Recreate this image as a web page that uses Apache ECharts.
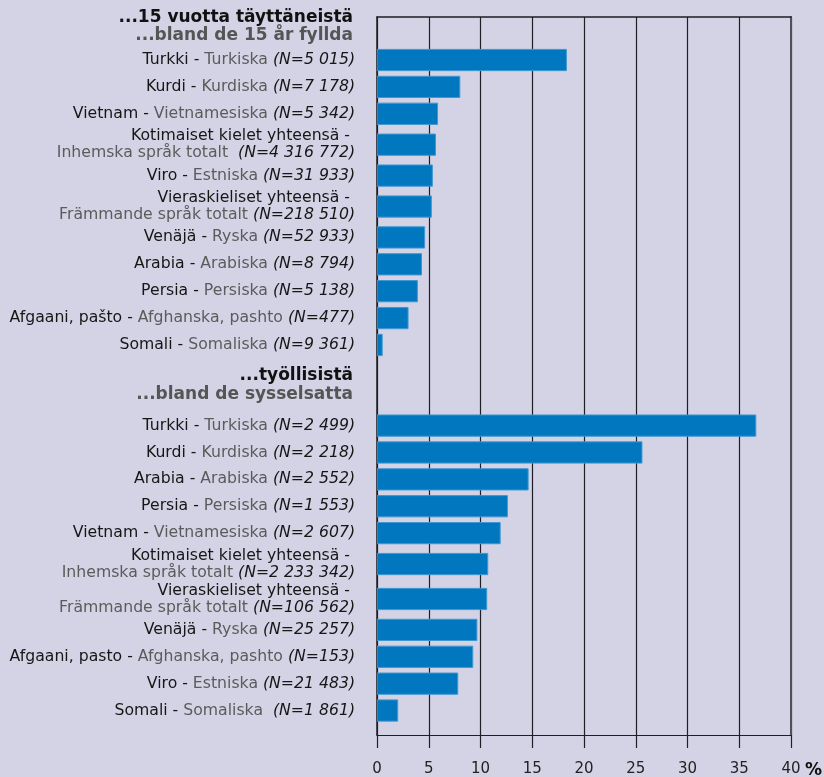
<!DOCTYPE html>
<html>
<head>
<meta charset="utf-8">
<script src="https://cdn.jsdelivr.net/npm/echarts@6/dist/echarts.min.js"></script>
<style>
html,body{margin:0;padding:0;background:#d3d3e5;}
#chart{width:824px;height:777px;}
</style>
</head>
<body>
<div id="chart"></div>
<script>
// ---- data ----
const header1Fi = '...15 vuotta täyttäneistä';
const header1Sv = '...bland de 15 år fyllda';
const header2Fi = '...työllisistä';
const header2Sv = '...bland de sysselsatta';

const group1Fi = ['Turkki','Kurdi','Vietnam','Kotimaiset kielet yhteensä','Viro','Vieraskieliset yhteensä','Venäjä','Arabia','Persia','Afgaani, pašto','Somali'];
const group1Sv = ['Turkiska','Kurdiska','Vietnamesiska','Inhemska språk totalt','Estniska','Främmande språk totalt','Ryska','Arabiska','Persiska','Afghanska, pashto','Somaliska'];
const group1N  = ['5 015','7 178','5 342','4 316 772','31 933','218 510','52 933','8 794','5 138','477','9 361'];
const group1Values = [18.3, 8.0, 5.85, 5.65, 5.35, 5.25, 4.6, 4.3, 3.9, 3.0, 0.5];

const group2Fi = ['Turkki','Kurdi','Arabia','Persia','Vietnam','Kotimaiset kielet yhteensä','Vieraskieliset yhteensä','Venäjä','Afgaani, pasto','Viro','Somali'];
const group2Sv = ['Turkiska','Kurdiska','Arabiska','Persiska','Vietnamesiska','Inhemska språk totalt','Främmande språk totalt','Ryska','Afghanska, pashto','Estniska','Somaliska'];
const group2N  = ['2 499','2 218','2 552','1 553','2 607','2 233 342','106 562','25 257','153','21 483','1 861'];
const group2Values = [36.6, 25.6, 14.6, 12.6, 11.9, 10.7, 10.6, 9.65, 9.25, 7.8, 2.0];

const xTicks = [0, 5, 10, 15, 20, 25, 30, 35, 40];

// ---- row layout (in row units; two-line labels take a taller row) ----
const ROW_TWO = 1.3, HEADER_GAP = 2, TOP_PAD = 1.1, BOTTOM_PAD = 0.91, BAR_H = 0.79;
const labelMap = {};
const barData = [];
let pos = null, prevH = 0;
function key(v){ return (Math.round(v * 1000) / 1000).toFixed(3); }
function addGroup(fi, sv, n, vals, wideGapBeforeN){
  fi.forEach((f, i) => {
    const two = f.indexOf('yhteensä') >= 0;
    const h = two ? ROW_TWO : 1;
    pos = (pos === null) ? 0 : pos + (prevH + h) / 2;
    prevH = h;
    const sep = wideGapBeforeN.indexOf(i) >= 0 ? '  ' : ' ';
    labelMap[key(pos)] = two
      ? '{fi|' + f + ' - }\n{sv|' + sv[i] + '}{n|' + sep + '(N=' + n[i] + ')}'
      : '{fi|' + f + ' - }{sv|' + sv[i] + '}{n|' + sep + '(N=' + n[i] + ')}';
    barData.push([vals[i], pos]);
  });
}
addGroup(group1Fi, group1Sv, group1N, group1Values, [3]);
const lastOfGroup1 = pos, lastH1 = prevH;
const header2Pos = lastOfGroup1 + lastH1 / 2 + HEADER_GAP / 2;
pos = lastOfGroup1 + lastH1 / 2 + HEADER_GAP - 0.5; prevH = 1;
addGroup(group2Fi, group2Sv, group2N, group2Values, [10]);
const yMin = -0.5 - TOP_PAD;
const yMax = pos + BOTTOM_PAD;
const header1Pos = yMin + 0.35;
labelMap[key(header1Pos)] = '{h1|' + header1Fi + '}\n{h2|' + header1Sv + '}';
labelMap[key(header2Pos)] = '{h1|' + header2Fi + '}\n{h2|' + header2Sv + '}';
const labelValues = Object.keys(labelMap).map(Number);

const FONT = 'DejaVu Sans';
const lineCol = '#1e1e24';
const chart = echarts.init(document.getElementById('chart'), null, {renderer:'canvas'});

chart.setOption({
  backgroundColor: '#d3d3e5',
  animation: false,
  grid: {left: 377, right: 33, top: 17, bottom: 42},
  xAxis: [
    {type: 'value', min: 0, max: 40, interval: 5, position: 'bottom',
      axisLine: {show: true, onZero: false, lineStyle: {color: lineCol, width: 1.2}},
      axisTick: {show: true, length: 13, lineStyle: {color: lineCol, width: 1.2}},
      axisLabel: {show: true, margin: 27, fontSize: 15, fontFamily: FONT, color: '#222',
        formatter: v => xTicks.indexOf(v) >= 0 ? String(v) : ''},
      splitLine: {show: true, lineStyle: {color: lineCol, width: 1.2}}},
    {type: 'value', min: 0, max: 40, position: 'top',
      axisLine: {show: true, onZero: false, lineStyle: {color: lineCol, width: 1.5}},
      axisTick: {show: false}, axisLabel: {show: false}, splitLine: {show: false}}
  ],
  yAxis: [
    {type: 'value', min: yMin, max: yMax, inverse: true,
      axisLine: {show: true, onZero: false, lineStyle: {color: lineCol, width: 1.5}},
      axisTick: {show: false},
      splitLine: {show: false},
      axisLabel: {
        customValues: labelValues, margin: 22, align: 'right',
        showMinLabel: true, showMaxLabel: true,
        formatter: v => labelMap[key(v)] || '',
        rich: {
          fi: {fontSize: 15.7, fontFamily: FONT, color: '#161616', lineHeight: 17},
          sv: {fontSize: 15.7, fontFamily: FONT, color: '#5b5b5b', lineHeight: 17},
          n:  {fontSize: 15.7, fontFamily: FONT, color: '#161616', fontStyle: 'italic', lineHeight: 17},
          h1: {fontSize: 17, fontFamily: FONT, fontWeight: 'bold', color: '#111', lineHeight: 18.5, padding: [0, 2, 0, 0]},
          h2: {fontSize: 17, fontFamily: FONT, fontWeight: 'bold', color: '#555', lineHeight: 18.5, padding: [0, 2, 0, 0]}
        }
      }},
    {type: 'value', min: yMin, max: yMax, inverse: true, position: 'right',
      axisLine: {show: true, onZero: false, lineStyle: {color: '#50505c', width: 2}},
      axisTick: {show: false}, axisLabel: {show: false}, splitLine: {show: false}}
  ],
  series: [{
    type: 'custom', xAxisIndex: 0, yAxisIndex: 0, data: barData,
    encode: {x: 0, y: 1}, silent: true, clip: true,
    renderItem: (params, api) => {
      const v = api.value(0), p = api.value(1);
      const a = api.coord([0, p]), b = api.coord([v, p]);
      const h = Math.abs(api.size([0, BAR_H])[1]);
      return {type: 'rect',
        shape: {x: a[0], y: a[1] - h / 2, width: b[0] - a[0], height: h},
        style: {fill: '#0077be', stroke: '#3f97d2', lineWidth: 1}};
    }
  }],
  graphic: [
    {type: 'text', x: 805, y: 771, style: {text: '%', align: 'left', verticalAlign: 'middle', textAlign: 'left', textVerticalAlign: 'middle',
      font: 'bold 17px "DejaVu Sans"', fill: '#111'}}
  ]
});
</script>
</body>
</html>
